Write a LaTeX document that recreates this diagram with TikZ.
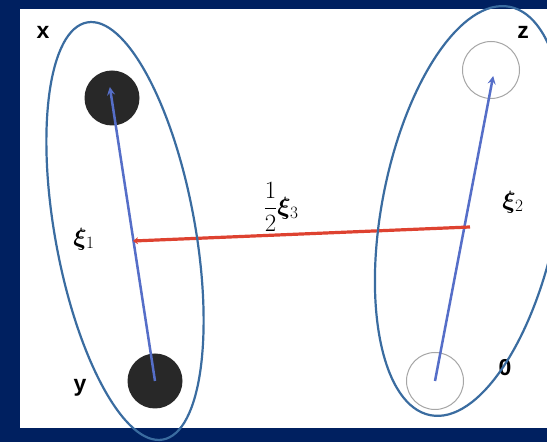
\documentclass[tikz,border=0pt]{standalone}
\usepackage{amsmath,amssymb}
\usepackage{bm}
\usepackage{fontspec}
\usepackage{tikz}
\usetikzlibrary{arrows.meta}
\newfontfamily\lblfont{Liberation Sans}
\definecolor{navybg}{RGB}{0,32,96}
\definecolor{grpblue}{RGB}{58,108,160}
\definecolor{vecblue}{RGB}{85,110,200}
\definecolor{vecred}{RGB}{222,66,48}
\definecolor{dotgray}{RGB}{40,40,40}

\begin{document}
\begin{tikzpicture}[x=1pt,y=1pt,>=stealth,
  filled/.style={circle,fill=dotgray,minimum size=55pt,inner sep=0pt},
  hollow/.style={circle,draw=gray!70,line width=1pt,minimum size=57pt,inner sep=0pt},
  pt/.style={font=\lblfont\bfseries\fontsize{23}{26}\selectfont},
  lbl/.style={font=\fontsize{23}{27}\selectfont},
  vec/.style={->,line width=2.5pt,vecblue,shorten >=-1pt},
  grp/.style={line width=2.2pt,grpblue}]
\useasboundingbox (0,0) rectangle (547,442);
\fill[navybg] (0,0) rectangle (547,442);
\fill[white] (20,14) rectangle (547,433);
% points
\node[filled] (x) at (112,344) {};
\node[filled] (y) at (155,61) {};
\node[hollow] (z) at (491,372) {};
\node[hollow] (o) at (435,61) {};
\node[pt] (xl) at (43,410) {x};
\node[pt] (yl) at (80,54) {y};
\node[pt] (zl) at (523,410) {z};
\node[pt] (ol) at (505,74) {0};
% vectors
\coordinate (xtip) at (110,354);
\coordinate (ztip) at (493,365);
\coordinate (r1) at (133,201);
\coordinate (r2) at (470,215);
\draw[vec] (y.center) -- (xtip);
\draw[vec] (o.center) -- (ztip);
\draw[<-,line width=3.2pt,vecred,>={Stealth[length=5pt,width=7pt]}] (r1) -- (r2);
\node[lbl] (xi1) at (84,203) {$\bm{\xi}_1$};
\node[lbl] (xi2) at (513,240) {$\bm{\xi}_2$};
\node[lbl] (xi3) at (281,235) {$\dfrac{1}{2}\bm{\xi}_3$};
% groups
\draw[grp,rotate around={10.3:(125,211)}] (125,211) ellipse (70 and 212);
\draw[grp,rotate around={-11:(470,231)}] (470,231) ellipse (88 and 208);
\end{tikzpicture}
\end{document}
